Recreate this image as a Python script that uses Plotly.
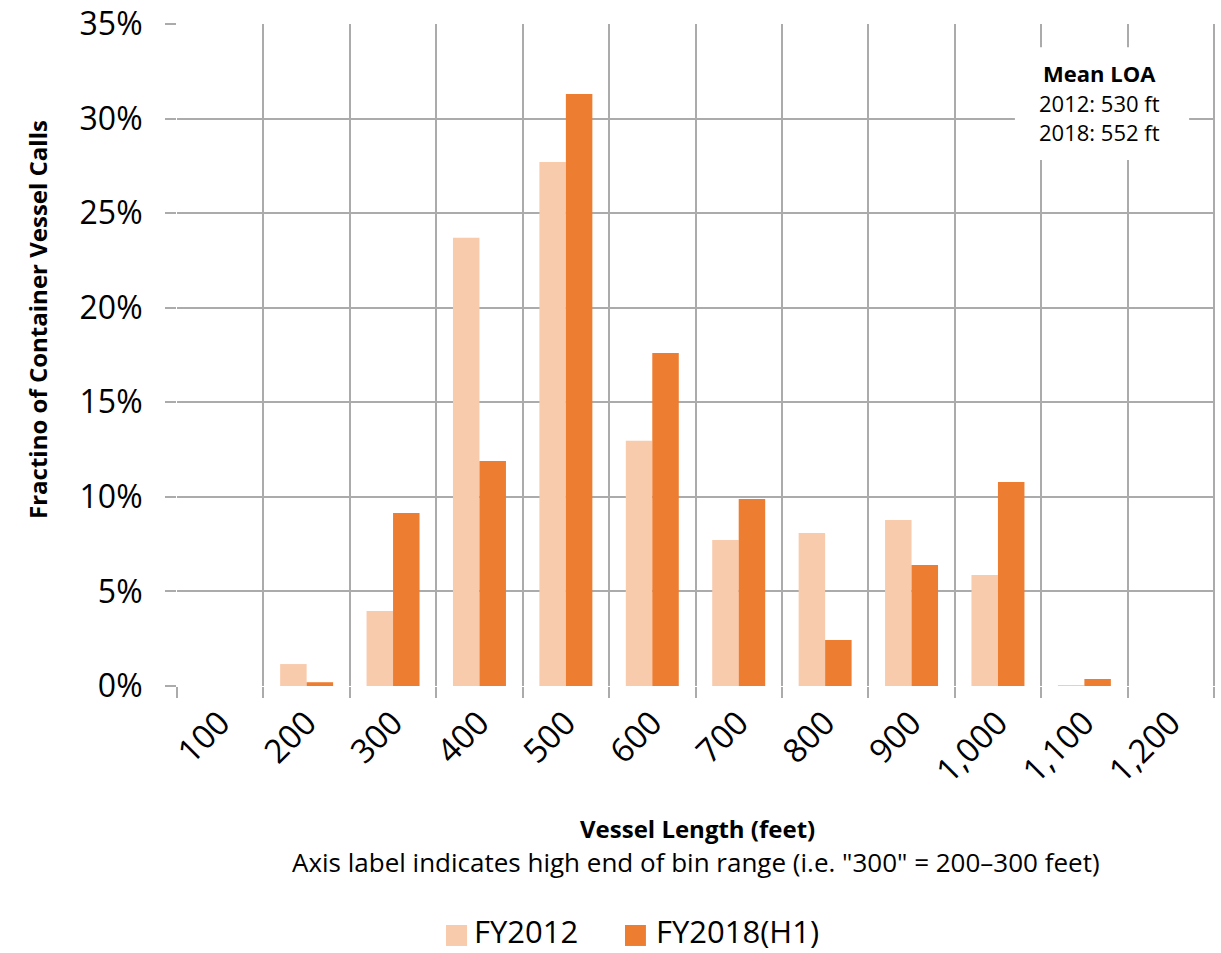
import plotly.graph_objects as go

# Vessel length bins (high end of each 100 ft bin)
bins = ["100", "200", "300", "400", "500", "600", "700", "800", "900", "1,000", "1,100", "1,200"]

# Share of container vessel calls per bin, in percent
fy2012 = [0.0, 1.16, 3.97, 23.7, 27.7, 12.96, 7.72, 8.09, 8.78, 5.87, 0.05, 0.0]
fy2018_h1 = [0.0, 0.2, 9.15, 11.9, 31.3, 17.6, 9.89, 2.43, 6.4, 10.79, 0.37, 0.0]

series_names = ["FY2012", "FY2018(H1)"]
series_colors = ["#F8CBAD", "#ED7D31"]

mean_loa_title = "Mean LOA"
mean_loa_lines = ["2012: 530 ft", "2018: 552 ft"]

FONT = "Open Sans"
GRID = "#ABABAB"

fig = go.Figure()
for name, vals, col in zip(series_names, [fy2012, fy2018_h1], series_colors):
    fig.add_trace(go.Bar(x=bins, y=vals, name=name, marker=dict(color=col, line=dict(width=0)),
                         showlegend=False))

fig.update_layout(
    width=1221, height=953,
    margin=dict(l=177, r=7, t=24, b=267, autoexpand=False),
    paper_bgcolor="white", plot_bgcolor="white",
    barmode="group", bargap=0.387, bargroupgap=0,
    font=dict(family=FONT, color="black"),
    showlegend=False,
    xaxis=dict(
        type="category", tickson="boundaries", showgrid=True, gridcolor=GRID, gridwidth=2,
        ticks="outside", ticklen=11, tickwidth=2, tickcolor=GRID,
        tickangle=-45, tickfont=dict(size=33), ticklabelstandoff=10,
        showline=False, zeroline=False, automargin=False,
        range=[-0.5, len(bins) - 0.5],
    ),
    yaxis=dict(
        range=[0, 35], dtick=5, ticksuffix="%", showgrid=True, gridcolor=GRID, gridwidth=2,
        ticks="outside", ticklen=11, tickwidth=2, tickcolor=GRID,
        tickfont=dict(size=32), ticklabelstandoff=16, zeroline=False, showline=False,
        automargin=False,
    ),
)

# Right edge of the plotting area
fig.add_shape(type="line", xref="paper", yref="paper", x0=1, x1=1, y0=0, y1=1,
              line=dict(color=GRID, width=2), layer="below")

# Axis titles
fig.add_annotation(text="<b>Fractino of Container Vessel Calls</b>", xref="paper", yref="paper",
                   x=-0.134, y=0.553, xanchor="center", yanchor="middle", textangle=-90,
                   showarrow=False, font=dict(size=24))
fig.add_annotation(text="<b>Vessel Length (feet)</b>", xref="paper", yref="paper",
                   x=0.502, y=-0.216, xanchor="center", yanchor="middle",
                   showarrow=False, font=dict(size=24))
fig.add_annotation(text='Axis label indicates high end of bin range (i.e. "300" = 200\u2013300 feet)',
                   xref="paper", yref="paper", x=0.5, y=-0.266, xanchor="center", yanchor="middle",
                   showarrow=False, font=dict(size=26))

# Mean LOA text box
fig.add_shape(type="rect", xref="paper", yref="paper", x0=0.808, x1=0.976, y0=0.7946, y1=0.965,
              fillcolor="white", line=dict(width=0), layer="above")
fig.add_annotation(text="<b>" + mean_loa_title + "</b>", xref="paper", yref="paper",
                   x=0.890, y=0.926, xanchor="center", yanchor="middle",
                   showarrow=False, font=dict(size=22))
for line, yy in zip(mean_loa_lines, [0.881, 0.837]):
    fig.add_annotation(text=line, xref="paper", yref="paper", x=0.890, y=yy,
                       xanchor="center", yanchor="middle", showarrow=False, font=dict(size=22))

# Legend
legend_x = [(0.2594, 0.2797, 0.2854), (0.432, 0.4522, 0.461)]
for (x0, x1, xt), name, col in zip(legend_x, series_names, series_colors):
    fig.add_shape(type="rect", xref="paper", yref="paper", x0=x0, x1=x1, y0=-0.3927, y1=-0.361,
                  fillcolor=col, line=dict(width=0))
    fig.add_annotation(text=name, xref="paper", yref="paper", x=xt, y=-0.370,
                       xanchor="left", yanchor="middle", borderpad=0,
                       showarrow=False, font=dict(size=31))

fig.write_html("out.html")
